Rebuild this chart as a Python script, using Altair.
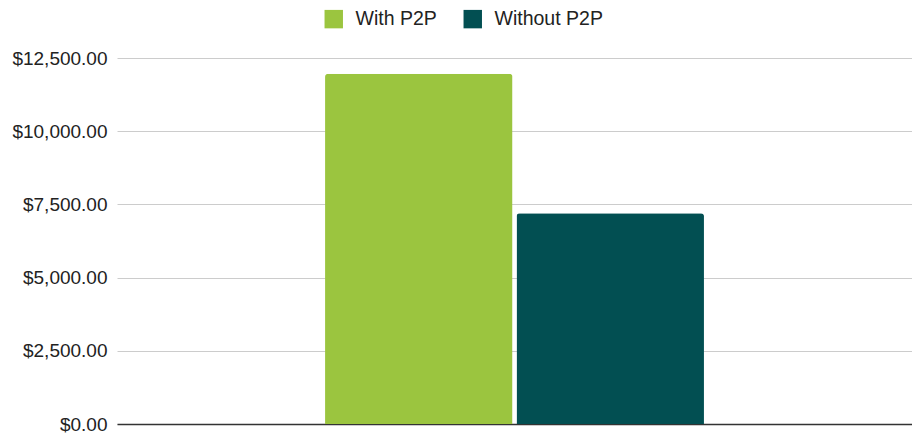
import altair as alt
import pandas as pd

series = ["With P2P", "Without P2P"]
values = [11960, 7200]
colors = ["#9bc53f", "#024f52"]

df = pd.DataFrame({"cat": [""] * 2, "series": series, "value": values})

chart = alt.Chart(df).mark_bar(cornerRadiusTopLeft=3, cornerRadiusTopRight=3).encode(
    x=alt.X("cat:N", title=None,
            scale=alt.Scale(paddingInner=0, paddingOuter=0.549),
            axis=alt.Axis(labels=False, ticks=False, domain=True, domainColor="#333333",
                          domainWidth=1.5, grid=False)),
    xOffset=alt.XOffset("series:N", sort=series, scale=alt.Scale(paddingInner=0.021)),
    y=alt.Y("value:Q", title=None,
            scale=alt.Scale(domain=[0, 12500], nice=False),
            axis=alt.Axis(values=[0, 2500, 5000, 7500, 10000, 12500], format="$,.2f",
                          domain=False, ticks=False, labelPadding=10, labelFontSize=19,
                          labelFont="Liberation Sans", labelColor="#222222",
                          gridColor="#cccccc", gridWidth=1)),
    color=alt.Color("series:N", sort=series,
                    scale=alt.Scale(domain=series, range=colors),
                    legend=alt.Legend(title=None, orient="none", legendX=207, legendY=-49,
                                      direction="horizontal", symbolType="square",
                                      symbolSize=340, symbolStrokeWidth=0, symbolOpacity=1,
                                      labelFontSize=19.5, labelFont="Liberation Sans",
                                      labelColor="#222222", labelOffset=12,
                                      columnPadding=26)),
).properties(
    width=795, height=366,
    autosize=alt.AutoSizeParams(type="none"),
    padding={"left": 109, "top": 50, "right": 0, "bottom": 10},
).configure_view(stroke=None)

chart.save("out.html", embed_options={"renderer": "svg", "actions": False})
